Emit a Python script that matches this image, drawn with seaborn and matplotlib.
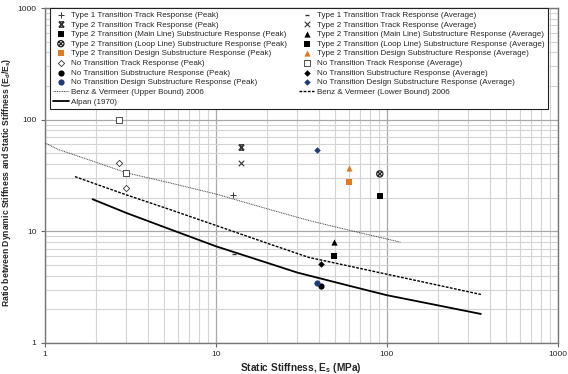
import numpy as np
import pandas as pd
import seaborn as sns
import matplotlib
matplotlib.use("Agg")
import matplotlib.pyplot as plt
from matplotlib.path import Path
from matplotlib.ticker import FixedLocator, FixedFormatter, NullFormatter, LogLocator

# ---- data ----
type1_peak_x, type1_peak_y = [12.6], [21.2]
type1_avg_x, type1_avg_y = [12.7], [6.3]
type2_peak_x, type2_peak_y = [14.1], [57.5]
type2_avg_x, type2_avg_y = [14.1], [40.6]
main_peak_x, main_peak_y = [48.8], [6.0]
main_avg_x, main_avg_y = [48.8], [8.0]
loop_peak_x, loop_peak_y = [91.0], [32.7]
loop_avg_x, loop_avg_y = [91.0], [20.9]
design_peak_x, design_peak_y = [60.0], [27.4]
design_avg_x, design_avg_y = [60.0], [37.2]
nt_track_peak_x, nt_track_peak_y = [2.73, 3.0], [40.6, 24.2]
nt_track_avg_x, nt_track_avg_y = [2.71, 3.0], [99.0, 33.5]
nt_sub_peak_x, nt_sub_peak_y = [41.3], [3.27]
nt_sub_avg_x, nt_sub_avg_y = [41.3], [5.14]
nt_design_peak_x, nt_design_peak_y = [38.8], [3.48]
nt_design_avg_x, nt_design_avg_y = [38.8], [53.6]

upper_x = [1, 1.2, 2, 3, 5, 10, 20, 35, 60, 120]
upper_y = [62.0, 54.0, 41.5, 33.4, 27.9, 21.6, 15.9, 12.5, 10.25, 8.0]
lower_x = [1.5, 2, 3, 5, 10, 20, 35, 60, 100, 200, 355]
lower_y = [30.9, 26.4, 21.2, 16.3, 11.3, 7.82, 5.84, 4.89, 4.13, 3.29, 2.72]
alpan_x = [1.9, 3, 5, 10, 20, 30, 60, 100, 200, 355]
alpan_y = [19.4, 14.6, 10.9, 7.35, 5.22, 4.27, 3.26, 2.68, 2.17, 1.82]

ticks = [1, 10, 100, 1000]
tick_labels = ["1", "10", "100", "1000"]

ORANGE = "#E07B24"
NAVY = "#1F3A78"

# ---- custom markers ----
M, L = Path.MOVETO, Path.LINETO
hourglass = Path([(-1, 1), (1, -1), (-1, -1), (1, 1), (-1, 1), (1, 1), (-1, -1), (1, -1)],
                 [M, L, M, L, M, L, M, L])
circle_x = Path.make_compound_path(
    Path.unit_circle(),
    Path([(-0.7, -0.7), (0.7, 0.7), (-0.7, 0.7), (0.7, -0.7)], [M, L, M, L]))
quad = []
for dx, dy in [(-1, -1), (0.15, -1), (-1, 0.15), (0.15, 0.15)]:
    s = 0.85
    quad.append(Path([(dx, dy), (dx + s, dy), (dx + s, dy + s), (dx, dy + s), (dx, dy)],
                     [M, L, L, L, Path.CLOSEPOLY]))
quad_sq = Path.make_compound_path(*quad)

sns.set_theme(style="white")
plt.rcParams["font.family"] = ["Liberation Sans", "DejaVu Sans"]
plt.rcParams["mathtext.fontset"] = "custom"
plt.rcParams["mathtext.rm"] = "Liberation Sans:bold"
plt.rcParams["mathtext.it"] = "Liberation Sans:bold"
plt.rcParams["mathtext.bf"] = "Liberation Sans:bold"

fig, ax = plt.subplots(figsize=(5.68, 3.74), dpi=100)
fig.subplots_adjust(left=0.079, right=0.982, top=0.9786, bottom=0.0829)
ax.set_xscale("log")
ax.set_yscale("log")

series = [
    ("Type 1 Transition Track Response (Peak)", type1_peak_x, type1_peak_y,
     dict(marker="+", color="#333333", s=20, linewidth=0.7)),
    ("Type 2 Transition Track Response (Peak)", type2_peak_x, type2_peak_y,
     dict(marker=hourglass, color="#333333", edgecolor="#333333", s=14, linewidth=1.1)),
    ("Type 2 Transition (Main Line) Substructure Response (Peak)", main_peak_x, main_peak_y,
     dict(marker="s", color="black", edgecolor="black", s=16, linewidth=0)),
    ("Type 2 Transition (Loop Line) Substructure Response (Peak)", loop_peak_x, loop_peak_y,
     dict(marker=circle_x, color="none", edgecolor="#222222", s=20, linewidth=0.9)),
    ("Type 2 Transition Design Substructure Response (Peak)", design_peak_x, design_peak_y,
     dict(marker="s", color=ORANGE, edgecolor=ORANGE, s=16, linewidth=0)),
    ("No Transition Track Response (Peak)", nt_track_peak_x, nt_track_peak_y,
     dict(marker="D", color="white", edgecolor="#333333", s=10, linewidth=0.6)),
    ("No Transition Substructure Response (Peak)", nt_sub_peak_x, nt_sub_peak_y,
     dict(marker="o", color="black", edgecolor="black", s=20, linewidth=0)),
    ("No Transition Design Substructure Response (Peak)", nt_design_peak_x, nt_design_peak_y,
     dict(marker="o", color=NAVY, edgecolor=NAVY, s=20, linewidth=0)),
    ("Type 1 Transition Track Response (Average)", type1_avg_x, type1_avg_y,
     dict(marker="_", color="#333333", s=10, linewidth=1.0)),
    ("Type 2 Transition Track Response (Average)", type2_avg_x, type2_avg_y,
     dict(marker="x", color="#333333", s=16, linewidth=0.8)),
    ("Type 2 Transition (Main Line) Substructure Response (Average)", main_avg_x, main_avg_y,
     dict(marker="^", color="black", edgecolor="black", s=20, linewidth=0)),
    ("Type 2 Transition (Loop Line) Substructure Response (Average)", loop_avg_x, loop_avg_y,
     dict(marker=quad_sq, color="black", edgecolor="black", s=18, linewidth=0)),
    ("Type 2 Transition Design Substructure Response (Average)", design_avg_x, design_avg_y,
     dict(marker="^", color=ORANGE, edgecolor=ORANGE, s=20, linewidth=0)),
    ("No Transition Track Response (Average)", nt_track_avg_x, nt_track_avg_y,
     dict(marker="s", color="white", edgecolor="#333333", s=16, linewidth=0.6)),
    ("No Transition Substructure Response (Average)", nt_sub_avg_x, nt_sub_avg_y,
     dict(marker="D", color="black", edgecolor="black", s=11, linewidth=0)),
    ("No Transition Design Substructure Response (Average)", nt_design_avg_x, nt_design_avg_y,
     dict(marker="D", color=NAVY, edgecolor=NAVY, s=11, linewidth=0)),
]

lines = [
    ("Benz & Vermeer (Upper Bound) 2006", upper_x, upper_y,
     dict(color="#444444", linewidth=0.7, linestyle=(0, (1, 0.8)))),
    ("Benz & Vermeer (Lower Bound) 2006", lower_x, lower_y,
     dict(color="black", linewidth=1.0, linestyle=(0, (2, 1)))),
    ("Alpan (1970)", alpan_x, alpan_y,
     dict(color="black", linewidth=1.3, linestyle="-")),
]

for name, xs, ys, kw in lines:
    sns.lineplot(x=xs, y=ys, ax=ax, label=name, zorder=3, **kw)

for name, xs, ys, kw in series:
    sns.scatterplot(x=xs, y=ys, ax=ax, label=name, zorder=4, **kw)

ax.set_xlim(1, 1000)
ax.set_ylim(1, 1000)

# grid: minor light, major darker
ax.xaxis.set_minor_locator(LogLocator(base=10, subs=np.arange(2, 10)))
ax.yaxis.set_minor_locator(LogLocator(base=10, subs=np.arange(2, 10)))
ax.xaxis.set_major_locator(FixedLocator(ticks))
ax.yaxis.set_major_locator(FixedLocator(ticks))
ax.xaxis.set_major_formatter(FixedFormatter(tick_labels))
ax.yaxis.set_major_formatter(FixedFormatter(tick_labels))
ax.xaxis.set_minor_formatter(NullFormatter())
ax.yaxis.set_minor_formatter(NullFormatter())
ax.grid(which="minor", color="#d4d4d4", linewidth=0.8)
ax.grid(which="major", color="#a8a8a8", linewidth=0.9)
ax.set_axisbelow(True)

ax.tick_params(which="major", direction="out", length=3, width=0.8, color="#666666",
               labelsize=6, pad=3, bottom=True, left=True)
ax.tick_params(which="minor", length=0)
for sp in ax.spines.values():
    sp.set_color("#777777")
    sp.set_linewidth(1.0)

ax.set_xlabel(r"Static Stiffness, E$_s$ (MPa)", fontsize=7.3, fontweight="bold", labelpad=2)
ax.set_ylabel(r"Ratio between Dynamic Stiffness and Static Stiffness (E$_d$/E$_s$)",
              fontsize=6.2, fontweight="bold")
ax.yaxis.set_label_coords(-0.062, 0.48)

# legend in the original order: peaks left, averages right
handles, labels = ax.get_legend_handles_labels()
lookup = dict(zip(labels, handles))
order = [s[0] for s in series[:8]] + [lines[0][0], lines[2][0]] + \
        [s[0] for s in series[8:]] + [lines[1][0]]
leg = ax.legend([lookup[k] for k in order], order, ncol=2, loc="upper left",
                bbox_to_anchor=(0.01, 1.0),
                fontsize=5.8, frameon=True, fancybox=False, edgecolor="#222222",
                framealpha=1, labelspacing=0.25, handlelength=1.9, handletextpad=0.3,
                borderpad=0.4, columnspacing=1.5, borderaxespad=0)
leg.get_frame().set_linewidth(0.8)

plt.savefig("out.png", dpi=100)
